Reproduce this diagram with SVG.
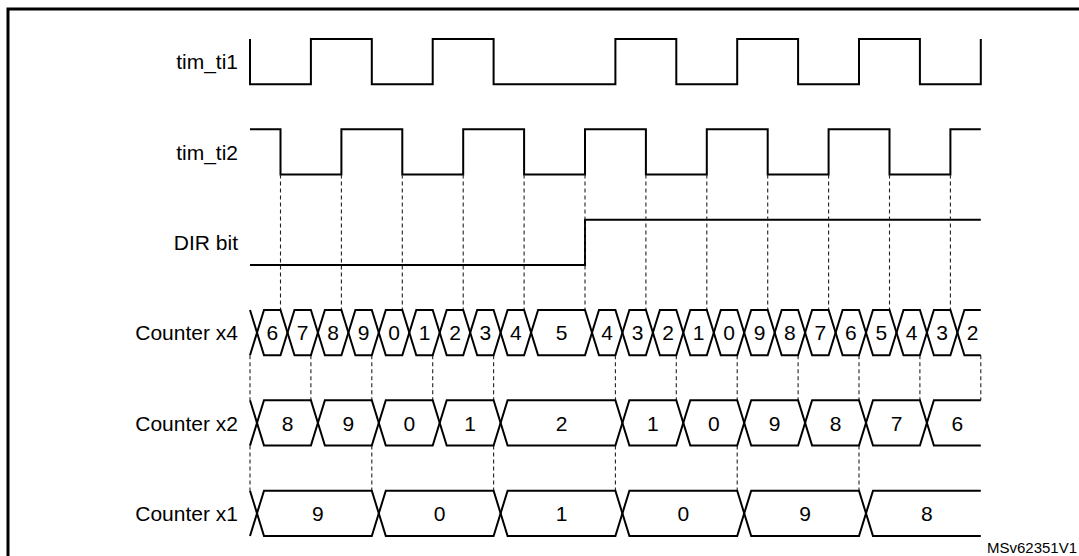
<svg xmlns="http://www.w3.org/2000/svg" width="1079" height="556" viewBox="0 0 1079 556">
<style>
.frame{fill:none;stroke:#000;stroke-width:3}
.sig{fill:none;stroke:#000;stroke-width:2;stroke-linejoin:miter}
.dash{fill:none;stroke:#222;stroke-width:1.1;stroke-dasharray:4 3}
.lbl{font-family:"Liberation Sans",Arial,sans-serif;font-size:21px;fill:#000;text-anchor:end}
.val{font-family:"Liberation Sans",Arial,sans-serif;font-size:21px;fill:#000;text-anchor:middle}
.ref{font-family:"Liberation Sans",Arial,sans-serif;font-size:15px;fill:#000}
</style>
<rect width="1079" height="556" fill="#fff"/>
<path class="frame" d="M8,556 V9 H1079"/>

<g id="tim_ti1">
<text class="lbl" x="238" y="69">tim_ti1</text>
<path class="sig" d="M250,39 V84.3 H310.9 V39 H371.8 V84.3 H432.7 V39 H493.6 V84.3 H615.4 V39 H676.3 V84.3 H737.2 V39 H798.1 V84.3 H859 V39 H919.9 V84.3 H980.8 V39"/>
</g>

<g id="tim_ti2">
<text class="lbl" x="238" y="159.5">tim_ti2</text>
<path class="sig" d="M250,129.3 H280.5 V174.6 H341.4 V129.3 H402.3 V174.6 H463.2 V129.3 H524.1 V174.6 H585 V129.3 H645.9 V174.6 H706.8 V129.3 H767.7 V174.6 H828.6 V129.3 H889.5 V174.6 H950.4 V129.3 H980.8"/>
</g>

<g id="dir_bit">
<text class="lbl" x="238" y="250">DIR bit</text>
<path class="sig" d="M250,265 H585 V219.7 H980.8"/>
</g>

<g id="connectors">
<path class="dash" d="M280.5,174.6 V310 M341.4,174.6 V310 M402.3,174.6 V310 M463.2,174.6 V310 M524.1,174.6 V310 M585,174.6 V310 M645.9,174.6 V310 M706.8,174.6 V310 M767.7,174.6 V310 M828.6,174.6 V310 M889.5,174.6 V310 M950.4,174.6 V310"/>
<path class="dash" d="M250,355.3 V400.3 M310.9,355.3 V400.3 M371.8,355.3 V400.3 M432.7,355.3 V400.3 M493.6,355.3 V400.3 M615.4,355.3 V400.3 M676.3,355.3 V400.3 M737.2,355.3 V400.3 M798.1,355.3 V400.3 M859,355.3 V400.3 M919.9,355.3 V400.3 M980.8,355.3 V400.3"/>
<path class="dash" d="M250,445.6 V490.7 M371.8,445.6 V490.7 M493.6,445.6 V490.7 M615.4,445.6 V490.7 M737.2,445.6 V490.7 M859,445.6 V490.7"/>
</g>

<g id="counter_x4">
<text class="lbl" x="238" y="340">Counter x4</text>
<g transform="translate(0,310)">
<path class="sig" d="M250,0 L264,45.3 H280.5 L294.5,0 H310.9 L324.9,45.3 H341.4 L355.4,0 H371.8 L385.8,45.3 H402.3 L416.3,0 H432.7 L446.7,45.3 H463.2 L477.2,0 H493.6 L507.6,45.3 H524.1 L538.1,0 H585 L599,45.3 H615.4 L629.4,0 H645.9 L659.9,45.3 H676.3 L690.3,0 H706.8 L720.8,45.3 H737.2 L751.2,0 H767.7 L781.7,45.3 H798.1 L812.1,0 H828.6 L842.6,45.3 H859 L873,0 H889.5 L903.5,45.3 H919.9 L933.9,0 H950.4 L964.4,45.3 H980.8"/>
<path class="sig" d="M250,45.3 L264,0 H280.5 L294.5,45.3 H310.9 L324.9,0 H341.4 L355.4,45.3 H371.8 L385.8,0 H402.3 L416.3,45.3 H432.7 L446.7,0 H463.2 L477.2,45.3 H493.6 L507.6,0 H524.1 L538.1,45.3 H585 L599,0 H615.4 L629.4,45.3 H645.9 L659.9,0 H676.3 L690.3,45.3 H706.8 L720.8,0 H737.2 L751.2,45.3 H767.7 L781.7,0 H798.1 L812.1,45.3 H828.6 L842.6,0 H859 L873,45.3 H889.5 L903.5,0 H919.9 L933.9,45.3 H950.4 L964.4,0 H980.8"/>
</g>
<text class="val" x="272.3" y="340">6</text>
<text class="val" x="302.7" y="340">7</text>
<text class="val" x="333.2" y="340">8</text>
<text class="val" x="363.6" y="340">9</text>
<text class="val" x="394.1" y="340">0</text>
<text class="val" x="424.5" y="340">1</text>
<text class="val" x="455" y="340">2</text>
<text class="val" x="485.4" y="340">3</text>
<text class="val" x="515.9" y="340">4</text>
<text class="val" x="561.6" y="340">5</text>
<text class="val" x="607.2" y="340">4</text>
<text class="val" x="637.7" y="340">3</text>
<text class="val" x="668.1" y="340">2</text>
<text class="val" x="698.6" y="340">1</text>
<text class="val" x="729" y="340">0</text>
<text class="val" x="759.5" y="340">9</text>
<text class="val" x="789.9" y="340">8</text>
<text class="val" x="820.4" y="340">7</text>
<text class="val" x="850.8" y="340">6</text>
<text class="val" x="881.3" y="340">5</text>
<text class="val" x="911.7" y="340">4</text>
<text class="val" x="942.2" y="340">3</text>
<text class="val" x="972.6" y="340">2</text>
</g>

<g id="counter_x2">
<text class="lbl" x="238" y="430.5">Counter x2</text>
<g transform="translate(0,400.3)">
<path class="sig" d="M250,0 L264,45.3 H310.9 L324.9,0 H371.8 L385.8,45.3 H432.7 L446.7,0 H493.6 L507.6,45.3 H615.4 L629.4,0 H676.3 L690.3,45.3 H737.2 L751.2,0 H798.1 L812.1,45.3 H859 L873,0 H919.9 L933.9,45.3 H980.8"/>
<path class="sig" d="M250,45.3 L264,0 H310.9 L324.9,45.3 H371.8 L385.8,0 H432.7 L446.7,45.3 H493.6 L507.6,0 H615.4 L629.4,45.3 H676.3 L690.3,0 H737.2 L751.2,45.3 H798.1 L812.1,0 H859 L873,45.3 H919.9 L933.9,0 H980.8"/>
</g>
<text class="val" x="287.5" y="430.5">8</text>
<text class="val" x="348.4" y="430.5">9</text>
<text class="val" x="409.3" y="430.5">0</text>
<text class="val" x="470.2" y="430.5">1</text>
<text class="val" x="561.5" y="430.5">2</text>
<text class="val" x="652.9" y="430.5">1</text>
<text class="val" x="713.8" y="430.5">0</text>
<text class="val" x="774.7" y="430.5">9</text>
<text class="val" x="835.6" y="430.5">8</text>
<text class="val" x="896.5" y="430.5">7</text>
<text class="val" x="957.4" y="430.5">6</text>
</g>

<g id="counter_x1">
<text class="lbl" x="238" y="521">Counter x1</text>
<g transform="translate(0,490.7)">
<path class="sig" d="M250,0 L264,45.3 H371.8 L385.8,0 H493.6 L507.6,45.3 H615.4 L629.4,0 H737.2 L751.2,45.3 H859 L873,0 H980.8"/>
<path class="sig" d="M250,45.3 L264,0 H371.8 L385.8,45.3 H493.6 L507.6,0 H615.4 L629.4,45.3 H737.2 L751.2,0 H859 L873,45.3 H980.8"/>
</g>
<text class="val" x="317.9" y="521">9</text>
<text class="val" x="439.7" y="521">0</text>
<text class="val" x="561.5" y="521">1</text>
<text class="val" x="683.3" y="521">0</text>
<text class="val" x="805.1" y="521">9</text>
<text class="val" x="926.9" y="521">8</text>
</g>

<text class="ref" x="987" y="553">MSv62351V1</text>
</svg>
